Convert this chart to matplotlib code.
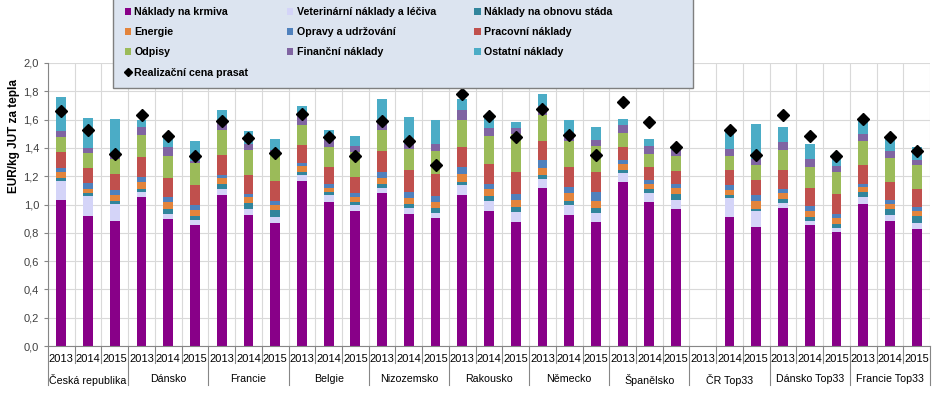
import matplotlib.pyplot as plt
from matplotlib.lines import Line2D
from matplotlib.patches import Patch, Rectangle
import numpy as np

plt.rcParams["font.family"] = ["Liberation Sans", "DejaVu Sans"]

countries = ["Česká republika", "Dánsko", "Francie", "Belgie", "Nizozemsko",
             "Rakousko", "Německo", "Španělsko", "ČR Top33", "Dánsko Top33",
             "Francie Top33"]
years = ["2013", "2014", "2015"]

nan = np.nan
krmiva = [1.035, 0.918, 0.882, 1.052, 0.900, 0.852, 1.066, 0.925, 0.871, 1.169, 1.019,
          0.953, 1.078, 0.934, 0.904, 1.066, 0.953, 0.878, 1.118, 0.925, 0.878, 1.158,
          1.019, 0.969, nan, 0.911, 0.842, 0.976, 0.854, 0.809, 1.005, 0.882, 0.828]
veterina = [0.130, 0.140, 0.125, 0.035, 0.036, 0.035, 0.044, 0.044, 0.042, 0.040, 0.047,
            0.042, 0.040, 0.038, 0.037, 0.075, 0.071, 0.070, 0.063, 0.068, 0.063, 0.066,
            0.059, 0.066, nan, 0.136, 0.111, 0.036, 0.028, 0.026, 0.047, 0.043, 0.043]
obnova = [0.020, 0.020, 0.017, 0.023, 0.033, 0.031, 0.038, 0.043, 0.045, 0.019, 0.021,
          0.021, 0.028, 0.035, 0.035, 0.019, 0.035, 0.033, 0.024, 0.031, 0.031, 0.023,
          0.033, 0.036, nan, 0.019, 0.016, 0.028, 0.031, 0.024, 0.035, 0.040, 0.047]
energie = [0.045, 0.032, 0.042, 0.048, 0.047, 0.042, 0.040, 0.042, 0.042, 0.043, 0.031,
           0.036, 0.042, 0.040, 0.043, 0.059, 0.052, 0.054, 0.054, 0.054, 0.056, 0.042,
           0.037, 0.047, nan, 0.040, 0.055, 0.038, 0.040, 0.047, 0.038, 0.042, 0.035]
opravy = [0.025, 0.043, 0.035, 0.035, 0.036, 0.033, 0.021, 0.021, 0.024, 0.023, 0.028,
          0.026, 0.040, 0.040, 0.040, 0.047, 0.035, 0.036, 0.052, 0.044, 0.059, 0.029,
          0.028, 0.028, nan, 0.030, 0.042, 0.033, 0.035, 0.030, 0.021, 0.028, 0.031]
pracovni = [0.115, 0.108, 0.116, 0.143, 0.136, 0.143, 0.144, 0.137, 0.141, 0.130, 0.120,
            0.117, 0.148, 0.155, 0.157, 0.139, 0.141, 0.160, 0.141, 0.144, 0.141, 0.087,
            0.088, 0.094, nan, 0.106, 0.110, 0.131, 0.130, 0.139, 0.132, 0.125, 0.127]
odpisy = [0.105, 0.100, 0.102, 0.156, 0.158, 0.158, 0.172, 0.176, 0.193, 0.136, 0.141,
          0.174, 0.153, 0.153, 0.160, 0.195, 0.200, 0.270, 0.183, 0.186, 0.184, 0.101,
          0.096, 0.101, nan, 0.104, 0.102, 0.146, 0.148, 0.156, 0.174, 0.169, 0.171]
financni = [0.045, 0.040, 0.042, 0.056, 0.061, 0.012, 0.075, 0.043, 0.030, 0.064, 0.052,
            0.043, 0.064, 0.036, 0.052, 0.071, 0.054, 0.040, 0.059, 0.035, 0.047, 0.059,
            0.056, 0.047, nan, 0.047, 0.044, 0.052, 0.056, 0.040, 0.049, 0.047, 0.036]
ostatni = [0.240, 0.207, 0.240, 0.052, 0.080, 0.146, 0.066, 0.087, 0.076, 0.075, 0.066,
           0.070, 0.153, 0.185, 0.172, 0.077, 0.075, 0.040, 0.090, 0.113, 0.089, 0.042,
           0.048, 0.017, nan, 0.129, 0.250, 0.106, 0.106, 0.070, 0.092, 0.088, 0.087]
cena = [1.659, 1.527, 1.358, 1.630, 1.485, 1.346, 1.593, 1.468, 1.362, 1.640, 1.478,
        1.341, 1.593, 1.447, 1.278, 1.781, 1.624, 1.478, 1.675, 1.494, 1.348, 1.725,
        1.584, 1.407, nan, 1.529, 1.353, 1.631, 1.482, 1.346, 1.605, 1.478, 1.376]

series = [
    ("Náklady na krmiva", krmiva, "#880088"),
    ("Veterinární náklady a léčiva", veterina, "#D4D4F8"),
    ("Náklady na obnovu stáda", obnova, "#31859C"),
    ("Energie", energie, "#E3843C"),
    ("Opravy a udržování", opravy, "#4F81BD"),
    ("Pracovní náklady", pracovni, "#C0504D"),
    ("Odpisy", odpisy, "#9BBB59"),
    ("Finanční náklady", financni, "#8064A2"),
    ("Ostatní náklady", ostatni, "#4BACC6"),
]

W, H = 938, 393
fig = plt.figure(figsize=(W / 100, H / 100), dpi=100)
ax = fig.add_axes([48 / W, 1 - 346 / H, (930 - 48) / W, (346 - 63) / H])

x = np.arange(len(krmiva))
bottom = np.zeros(len(x))
handles = {}
for name, vals, col in series:
    v = np.array(vals, dtype=float)
    ax.bar(x, v, 0.37, bottom=bottom, color=col, zorder=2)
    bottom = bottom + v
    handles[name] = Patch(facecolor=col, label=name)

ax.plot(x, cena, "D", color="black", markersize=5.7, zorder=3, linestyle="none")
handles["Realizační cena prasat"] = Line2D([], [], marker="D", color="black",
                                            linestyle="none", markersize=4)

ax.set_xlim(-0.5, len(x) - 0.5)
ax.set_ylim(0, 2.0)
ax.set_yticks(np.arange(0, 2.01, 0.2))
ax.set_yticklabels([f"{t:.1f}".replace(".", ",") for t in np.arange(0, 2.01, 0.2)],
                   fontsize=8, color="#404040")
fig.text(14 / W, 1 - 136 / H, "EUR/kg JUT za tepla", rotation=90, ha="center",
         va="center", fontsize=8.5, fontweight="bold")

ax.set_xticks([])
ax.set_xticks(np.arange(-0.5, len(x), 1), minor=True)
ax.tick_params(axis="x", which="minor", length=0)
ax.grid(axis="y", color="#D9D9D9", linewidth=0.8, zorder=0)
ax.grid(axis="x", which="minor", color="#D9D9D9", linewidth=0.8, zorder=0)
ax.tick_params(axis="y", length=3, color="#868686")
for s in ["top", "right"]:
    ax.spines[s].set_visible(False)
ax.spines["left"].set_color("#868686")
ax.spines["bottom"].set_color("#868686")

# two-level category axis
trans = ax.get_xaxis_transform()
for i in range(len(x)):
    ax.text(i, -0.03, years[i % 3], transform=trans, ha="center", va="top",
            fontsize=8)
for i in range(len(x) + 1):
    y1 = -0.138 if i % 3 == 0 else -0.06
    ax.plot([i - 0.5, i - 0.5], [0, y1], transform=trans, color="#868686",
            linewidth=0.8, clip_on=False)
for g, name in enumerate(countries):
    ax.text(g * 3 + 1, -0.098, name, transform=trans, ha="center", va="top",
            fontsize=7.7)

# legend box (wider than its content, as in the original)
fig.patches.append(Rectangle((113 / W, 1 - 88 / H), 580 / W, 88 / H + 0.01,
                             transform=fig.transFigure, facecolor="#DCE4F0",
                             edgecolor="#7F7F7F", linewidth=1, zorder=5))
order = ["Náklady na krmiva", "Energie", "Odpisy", "Realizační cena prasat",
         "Veterinární náklady a léčiva", "Opravy a udržování", "Finanční náklady",
         "Náklady na obnovu stáda", "Pracovní náklady", "Ostatní náklady"]
leg = fig.legend([handles[k] for k in order], order, ncol=3,
                 loc="upper left", bbox_to_anchor=(113 / W, 1.012),
                 prop={"weight": "bold", "size": 7.7}, frameon=False,
                 handlelength=0.6, handleheight=0.6, handletextpad=0.3,
                 columnspacing=3.6, labelspacing=0.95, borderpad=0.6)
leg.set_zorder(6)

fig.savefig("out.png", dpi=100)
